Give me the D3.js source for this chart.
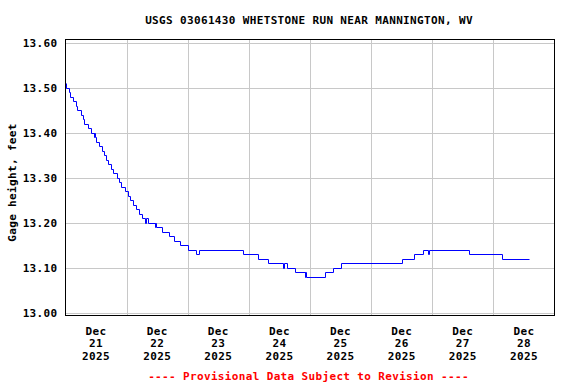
<!DOCTYPE html>
<html><head><meta charset="utf-8">
<script src="https://cdn.jsdelivr.net/npm/d3@7"></script>
<style>
body{margin:0;background:#fff}
svg{display:block}
text{font-family:"DejaVu Sans Mono","Liberation Mono",monospace;font-weight:bold;}
</style>
</head><body>
<svg id="chart" width="576" height="384"></svg>
<script>
const titleText = "USGS 03061430 WHETSTONE RUN NEAR MANNINGTON, WV";
const yAxisLabel = "Gage height, feet";
const footerText = "---- Provisional Data Subject to Revision ----";
const yTicks = [13.00, 13.10, 13.20, 13.30, 13.40, 13.50, 13.60];
const dayMonths = ["Dec","Dec","Dec","Dec","Dec","Dec","Dec","Dec"];
const dayNumbers = ["21","22","23","24","25","26","27","28"];
const dayYears = ["2025","2025","2025","2025","2025","2025","2025","2025"];
// hours since Dec 21 2025 00:00 at which the gage reading changes
const hoursSinceStart = [0,0.25,1.18,1.96,3.14,3.93,4.71,5.89,6.68,7.46,8.64,9.82,11.0,11.25,11.5,11.94,12.96,14.14,14.93,15.87,16.5,17.83,18.46,20.19,20.98,21.76,23.33,24.35,25.14,26.32,27.77,28.67,30.0,31.3,31.55,32.2,35.0,35.25,35.5,37.7,40.46,42.7,45.05,47.92,51.34,52.6,69.5,75.4,79.5,85.5,85.75,87.0,89.95,93.9,94.15,94.4,101.7,104.9,108.3,132.1,136.7,140.2,142.35,142.6,158.6,171.2,181.9];
const gageHeight = [13.51,13.50,13.49,13.48,13.47,13.46,13.45,13.44,13.43,13.42,13.41,13.40,13.39,13.40,13.39,13.38,13.37,13.36,13.35,13.34,13.33,13.32,13.31,13.30,13.29,13.28,13.27,13.26,13.25,13.24,13.23,13.22,13.21,13.20,13.21,13.20,13.19,13.20,13.19,13.18,13.17,13.16,13.15,13.14,13.13,13.14,13.13,13.12,13.11,13.10,13.11,13.10,13.09,13.08,13.09,13.08,13.09,13.10,13.11,13.12,13.13,13.14,13.13,13.14,13.13,13.12,13.12];

const start = new Date(2025, 11, 21, 0, 0);
const end = new Date(2025, 11, 29, 0, 0);
const hourMs = 3600 * 1000;
const data = hoursSinceStart.map((h, i) => ({t: new Date(start.getTime() + h * hourMs), v: gageHeight[i]}));

const L = 65.5, R = 554.5, T = 39.5, B = 315.5;
const FS = "11px", LS = "0.35px";
const svg = d3.select("#chart");
svg.append("rect").attr("width", 576).attr("height", 384).attr("fill", "#fff");

const x = d3.scaleTime().domain([start, end]).range([L, R]);
const y = d3.scaleLinear().domain([13.0, 13.6]).range([313, 42.5]);

// vertical gridlines at midnight
const midnights = d3.timeDay.range(d3.timeDay.offset(start, 1), end);
const xGrid = svg.append("g").attr("transform", `translate(0,${B})`)
  .call(d3.axisBottom(x).tickValues(midnights).tickSize(-(B - T)).tickFormat(""));
xGrid.select(".domain").remove();
xGrid.selectAll("line").attr("stroke", "#c8c8c8").attr("shape-rendering", "crispEdges");

// horizontal gridlines + labels
const yAx = svg.append("g").attr("transform", `translate(${L},0)`)
  .call(d3.axisLeft(y).tickValues(yTicks).tickSize(-(R - L)).tickPadding(8).tickFormat(d3.format(".2f")));
yAx.select(".domain").remove();
yAx.selectAll("line").attr("stroke", "#c8c8c8").attr("shape-rendering", "crispEdges");
yAx.selectAll("text").attr("font-size", FS).attr("letter-spacing", LS)
  .attr("fill", "#000").attr("font-family", "DejaVu Sans Mono").attr("font-weight", "bold");

// data line (snapped to pixel centres for a crisp 1px blue step line)
const line = d3.line()
  .x(d => Math.round(x(d.t)) + 0.5)
  .y(d => Math.round(y(d.v)) + 0.5)
  .curve(d3.curveStepAfter);
svg.append("path").datum(data).attr("d", line).attr("fill", "none")
  .attr("stroke", "#0000ff").attr("stroke-width", 1);

// frame
svg.append("rect").attr("x", L).attr("y", T).attr("width", R - L).attr("height", B - T)
  .attr("fill", "none").attr("stroke", "#000").attr("stroke-width", 1).attr("shape-rendering", "crispEdges");

// x labels at noon
const noons = dayNumbers.map((d, i) => new Date(start.getTime() + (i * 24 + 12) * hourMs));
const lab = svg.append("g").selectAll("text").data(noons).join("text")
  .attr("x", d => x(d)).attr("text-anchor", "middle")
  .attr("font-size", FS).attr("letter-spacing", LS).attr("fill", "#000");
lab.append("tspan").attr("x", d => x(d)).attr("y", 334.5).text((d, i) => dayMonths[i]);
lab.append("tspan").attr("x", d => x(d)).attr("y", 347).text((d, i) => dayNumbers[i]);
lab.append("tspan").attr("x", d => x(d)).attr("y", 360).text((d, i) => dayYears[i]);

// title
svg.append("text").attr("x", (L + R) / 2 - 1).attr("y", 23.5).attr("text-anchor", "middle")
  .attr("font-size", FS).attr("letter-spacing", LS).attr("fill", "#000").text(titleText);

// y axis label
svg.append("text").attr("transform", `translate(15.5,${(T + B) / 2 + 5}) rotate(-90)`)
  .attr("text-anchor", "middle").attr("font-size", FS).attr("letter-spacing", LS)
  .attr("fill", "#000").text(yAxisLabel);

// footer
svg.append("text").attr("x", (L + R) / 2 - 1.5).attr("y", 379.5).attr("text-anchor", "middle")
  .attr("font-size", FS).attr("letter-spacing", LS).attr("fill", "#ff0000").text(footerText);
</script>
</body></html>
